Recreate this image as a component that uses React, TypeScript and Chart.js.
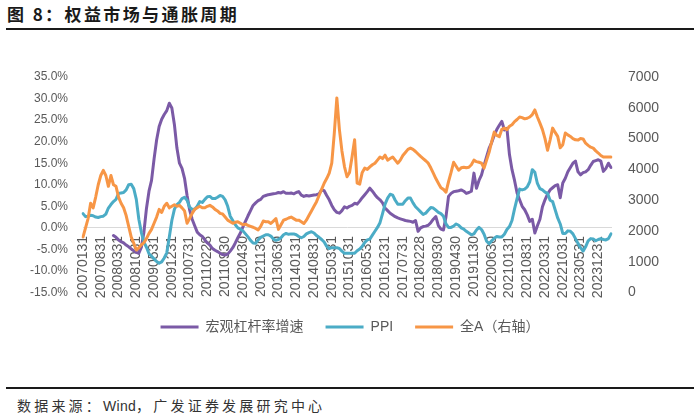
import React, { useEffect, useRef } from 'react';
import { Chart, registerables } from 'chart.js';

Chart.register(...registerables);

// Month-end categories, Jan 2007 .. May 2024
const START_YEAR = 2007;
const END_YEAR = 2024;
const END_MONTH = 5;
const CATEGORIES: string[] = (() => {
  const out: string[] = [];
  for (let y = START_YEAR; y <= END_YEAR; y++) {
    for (let m = 1; m <= 12; m++) {
      if (y === END_YEAR && m > END_MONTH) break;
      const d = new Date(y, m, 0).getDate();
      out.push(`${y}${String(m).padStart(2, '0')}${d}`);
    }
  }
  return out;
})();

const TICK_LABELS = [
  '20070131', '20070831', '20080331', '20081031', '20090531', '20091231',
  '20100731', '20110228', '20110930', '20120430', '20121130', '20130630',
  '20140131', '20140831', '20150331', '20151031', '20160531', '20161231',
  '20170731', '20180228', '20180930', '20190430', '20191130', '20200630',
  '20210131', '20210831', '20220331', '20221031', '20230531', '20231231',
];
const TICK_SET = new Set(TICK_LABELS);

const SERIES_NAMES = ['宏观杠杆率增速', 'PPI', '全A（右轴）'];

// 宏观杠杆率增速 (%), starts Jan 2008
const LEVERAGE: (number | null)[] = [
  null, null, null, null, null, null, null, null, null, null, null, null,
  -1.8, -2.2, -2.8, -3.2, -3.5, -4.0, -4.4, -4.9, -5.3, -5.7, -5.9, -4.5,
  -1.0, 4.5, 8.5, 11.0, 16.0, 20.4, 23.5, 25.2, 26.3, 27.2, 28.9, 27.8,
  24.0, 18.5, 15.0, 13.8, 11.5, 7.5, 4.2, 2.0, 0.5, -1.0, -1.6, -2.0,
  -2.8, -3.5, -4.0, -4.8, -5.2, -5.5, -5.9, -6.2, -6.3, -6.1, -5.4, -4.6,
  -3.5, -2.3, -1.2, 0.2, 1.5, 2.8, 4.0, 5.2, 5.8, 6.3, 6.6, 7.3,
  7.5, 7.7, 7.8, 7.9, 8.0, 8.2, 8.1, 8.4, 8.0, 8.0, 8.1, 7.9,
  8.2, 8.4, 7.6, 7.3, 7.5, 7.4, 7.5, 7.6, 7.7, 7.9, 8.8, 8.6,
  7.5, 6.5, 5.2, 4.2, 3.6, 3.4, 4.0, 4.9, 4.6, 5.0, 5.2, 5.7,
  5.5, 6.2, 7.0, 7.7, 8.4, 9.2, 8.5, 7.7, 7.0, 6.5, 5.8, 4.6,
  4.0, 3.4, 3.0, 2.6, 2.3, 2.1, 1.9, 1.7, 1.6, 1.5, 1.3, 1.7,
  -0.8, 0.0, 0.3, 0.4, 0.6, 1.2, 2.0, 2.6, 0.5, -0.3, -0.5, 2.6,
  7.3, 8.0, 8.4, 8.5, 8.6, 8.8, 8.5, 8.0, 8.2, 8.5, 12.7, 9.2,
  11.0, 12.3, 14.5, 16.5, 18.5, 19.8, 21.5, 22.8, 23.8, 24.7, 22.7, 23.1,
  17.0, 13.5, 11.0, 8.1, 6.5, 5.0, 4.2, 3.0, 1.5, 2.0, -1.2, 0.5,
  2.0, 4.9, 6.5, 7.8, 8.8, 9.3, 9.8, 10.0, 7.0, 10.4, 11.5, 13.0,
  14.0, 15.0, 15.5, 13.0, 12.3, 12.8, 13.0, 13.5, 14.5, 15.4, 15.6, 15.8,
  15.5, 13.1, 13.8, 15.0, 14.0,
];

// PPI YoY (%)
const PPI: number[] = [
  3.3, 2.6, 2.7, 2.9, 2.8, 2.5, 2.4, 2.6, 2.7, 3.2, 4.6, 5.4,
  6.1, 6.6, 8.0, 8.1, 8.2, 8.8, 10.0, 10.1, 9.1, 6.6, 2.0, -1.1,
  -3.3, -4.5, -6.0, -6.6, -7.2, -7.8, -8.2, -7.9, -7.0, -5.8, -2.1, 1.7,
  4.3, 5.4, 5.9, 6.8, 7.1, 6.4, 4.8, 4.3, 4.3, 5.0, 6.1, 5.9,
  6.6, 7.2, 7.3, 6.8, 6.8, 7.1, 7.5, 7.3, 6.5, 5.0, 2.7, 1.7,
  0.7, 0.0, -0.3, -0.7, -1.4, -2.1, -2.9, -3.5, -3.6, -2.8, -2.2, -1.9,
  -1.6, -1.6, -1.9, -2.6, -2.9, -2.7, -2.3, -1.6, -1.3, -1.5, -1.4, -1.4,
  -1.6, -2.0, -2.3, -2.0, -1.4, -1.1, -0.9, -1.2, -1.8, -2.2, -2.7, -3.3,
  -4.3, -4.8, -4.6, -4.6, -4.6, -4.8, -5.4, -5.9, -5.9, -5.9, -5.9, -5.9,
  -5.3, -4.9, -4.3, -3.4, -2.8, -2.6, -1.7, -0.8, 0.1, 1.2, 3.3, 5.5,
  6.9, 7.8, 7.6, 6.4, 5.5, 5.5, 5.5, 6.3, 6.9, 6.9, 5.8, 4.9,
  4.3, 3.7, 3.1, 3.4, 4.1, 4.7, 4.6, 4.1, 3.6, 3.3, 2.7, 0.9,
  0.1, 0.1, 0.4, 0.9, 0.6, 0.0, -0.3, -0.8, -1.2, -1.6, -1.4, -0.5,
  0.1, -0.4, -1.5, -3.1, -3.7, -3.0, -2.4, -2.0, -2.1, -2.1, -1.5, -0.4,
  0.3, 1.7, 4.4, 6.8, 9.0, 8.8, 9.0, 9.5, 10.7, 13.5, 12.9, 10.3,
  9.1, 8.8, 8.3, 8.0, 6.4, 6.1, 4.2, 2.3, 0.9, -1.3, -1.3, -0.7,
  -0.8, -1.4, -2.5, -3.6, -4.6, -5.4, -4.4, -3.0, -2.5, -2.6, -3.0, -2.7,
  -2.5, -2.7, -2.8, -2.5, -1.4,
];

// 全A index (right axis)
const ALL_A: number[] = [
  1800, 2100, 2400, 2900, 2750, 3100, 3500, 3800, 3970, 3800, 3450, 3800,
  3500, 3450, 3100, 2900, 2750, 2500, 2150, 1800, 1600, 1380, 1450, 1550,
  1620, 1750, 1920, 2050, 2250, 2450, 2700, 2600, 2800, 2900, 2750, 2800,
  2850, 2800, 2830, 2750, 2650, 2250, 2400, 2570, 2700, 2750, 2800, 2750,
  2750, 2800, 2830, 2780, 2700, 2650, 2570, 2550, 2450, 2350, 2300, 2250,
  2280, 2300, 2250, 2200, 2220, 2180, 2150, 2120, 2080, 2030, 2150, 2320,
  2300, 2300, 2240, 2320, 2400, 2050, 2200, 2350, 2380, 2420, 2450, 2400,
  2350, 2350, 2300, 2240, 2350, 2500, 2650, 2800, 2950, 3150, 3350, 3550,
  3700, 3880, 4200, 5180, 6320, 5300, 4600, 4090, 3760, 3900, 4410, 4960,
  3550, 3520, 3900, 4040, 4000, 4080, 4150, 4200, 4300, 4400, 4350, 4460,
  4300, 4350, 4400, 4300, 4200, 4300, 4450, 4550, 4650, 4690, 4650, 4580,
  4500, 4420, 4350, 4280, 4200, 4050, 3880, 3700, 3550, 3400, 3350, 3260,
  3600, 3900, 4230, 4100, 3970, 4050, 4070, 4050, 4070, 4150, 4300, 4250,
  4230, 4200, 4040, 4300, 4560, 4900, 5210, 5100, 5060, 5300, 5340, 5290,
  5400, 5450, 5550, 5620, 5700, 5680, 5640, 5660, 5700, 5780, 5930, 5700,
  5500, 5290, 5000, 4620, 4950, 5340, 5200, 5070, 4700, 4800, 5180, 5120,
  5070, 5000, 4960, 4950, 5000, 4990, 4850, 4780, 4720, 4690, 4600, 4530,
  4450, 4400, 4400, 4400, 4400,
];

const COLORS = ['#7B5AA6', '#4BACC6', '#F79646'];
const FONT = '"Liberation Sans", Arial, "Noto Sans CJK SC", sans-serif';
const CJK = '"Noto Sans CJK SC", "Liberation Sans", sans-serif';

export default function App() {
  const ref = useRef<HTMLCanvasElement>(null);

  useEffect(() => {
    if (!ref.current) return;
    const mk = (i: number, data: (number | null)[], axis: string, order: number) => ({
      label: SERIES_NAMES[i],
      data,
      yAxisID: axis,
      borderColor: COLORS[i],
      backgroundColor: COLORS[i],
      borderWidth: 3,
      pointRadius: 0,
      pointHoverRadius: 0,
      tension: 0,
      borderJoinStyle: 'round' as const,
      borderCapStyle: 'round' as const,
      order,
    });
    const chart = new Chart(ref.current, {
      type: 'line',
      data: {
        labels: CATEGORIES,
        datasets: [
          mk(0, LEVERAGE, 'y', 3),
          mk(1, PPI, 'y', 2),
          mk(2, ALL_A, 'y1', 1),
        ],
      },
      options: {
        responsive: false,
        animation: false,
        devicePixelRatio: 1,
        layout: { padding: { top: 37, left: 0, right: 0, bottom: 0 } },
        plugins: {
          tooltip: { enabled: false },
          legend: {
            position: 'bottom',
            title: {
              display: true,
              text: '',
              font: { size: 1, lineHeight: 1 },
              padding: { top: 4.5, bottom: 0 },
            },
            labels: {
              usePointStyle: true,
              pointStyle: 'line',
              pointStyleWidth: 38,
              boxHeight: 3,
              padding: 22,
              color: '#595959',
              font: { size: 14, family: FONT },
              sort: (a: any, b: any) => a.datasetIndex - b.datasetIndex,
            },
          },
        },
        scales: {
          x: {
            type: 'category',
            position: { y: 0 } as any,
            offset: false,
            grid: { display: false, drawTicks: false },
            border: { display: true, color: '#D9D9D9', width: 1 },
            ticks: {
              autoSkip: false,
              maxRotation: 90,
              minRotation: 90,
              padding: 8,
              color: '#595959',
              font: { size: 14, family: FONT },
              callback: (_v: any, i: number) => (TICK_SET.has(CATEGORIES[i]) ? CATEGORIES[i] : ''),
            },
            afterFit: (s: any) => { s.height = 0; },
          },
          y: {
            position: 'left',
            min: -15,
            max: 35,
            grid: { display: false, drawTicks: false },
            border: { display: false },
            ticks: {
              stepSize: 5,
              padding: 15,
              color: '#595959',
              font: { size: 12, family: FONT },
              callback: (v: any) => `${Number(v).toFixed(1)}%`,
            },
            afterFit: (s: any) => { s.width = 83; },
          },
          y1: {
            position: 'right',
            min: 0,
            max: 7000,
            grid: { display: false, drawTicks: false },
            border: { display: false },
            ticks: {
              stepSize: 1000,
              padding: 17,
              color: '#595959',
              font: { size: 14, family: FONT },
              callback: (v: any) => String(Math.round(Number(v))),
            },
            afterFit: (s: any) => { s.width = 89; },
          },
        },
      } as any,
    });
    return () => chart.destroy();
  }, []);

  return (
    <div style={{ position: 'fixed', left: 0, top: 0, width: 700, height: 416, background: '#fff', overflow: 'hidden' }}>
      <div
        style={{
          position: 'absolute', left: 7, top: 3, fontFamily: CJK, fontSize: 17, fontWeight: 'bold',
          letterSpacing: 2.4, lineHeight: '21px', color: '#1a1a1a', whiteSpace: 'nowrap',
        }}
      >
        图 8：权益市场与通胀周期
      </div>
      <div style={{ position: 'absolute', left: 6, top: 28, width: 688, height: 2, background: '#1a1a1a' }} />
      <canvas
        ref={ref}
        width={700}
        height={304}
        style={{ position: 'absolute', left: 0, top: 40, width: 700, height: 304 }}
      />
      <div style={{ position: 'absolute', left: 6, top: 387, width: 688, height: 2, background: '#1a1a1a' }} />
      <div
        style={{
          position: 'absolute', left: 17, top: 396, fontFamily: CJK, fontSize: 14, letterSpacing: 3.2,
          lineHeight: '18px', color: '#333', whiteSpace: 'nowrap',
        }}
      >
        数据来源：<span style={{ letterSpacing: 0.3, fontFamily: FONT }}>Wind</span>，广发证券发展研究中心
      </div>
    </div>
  );
}
